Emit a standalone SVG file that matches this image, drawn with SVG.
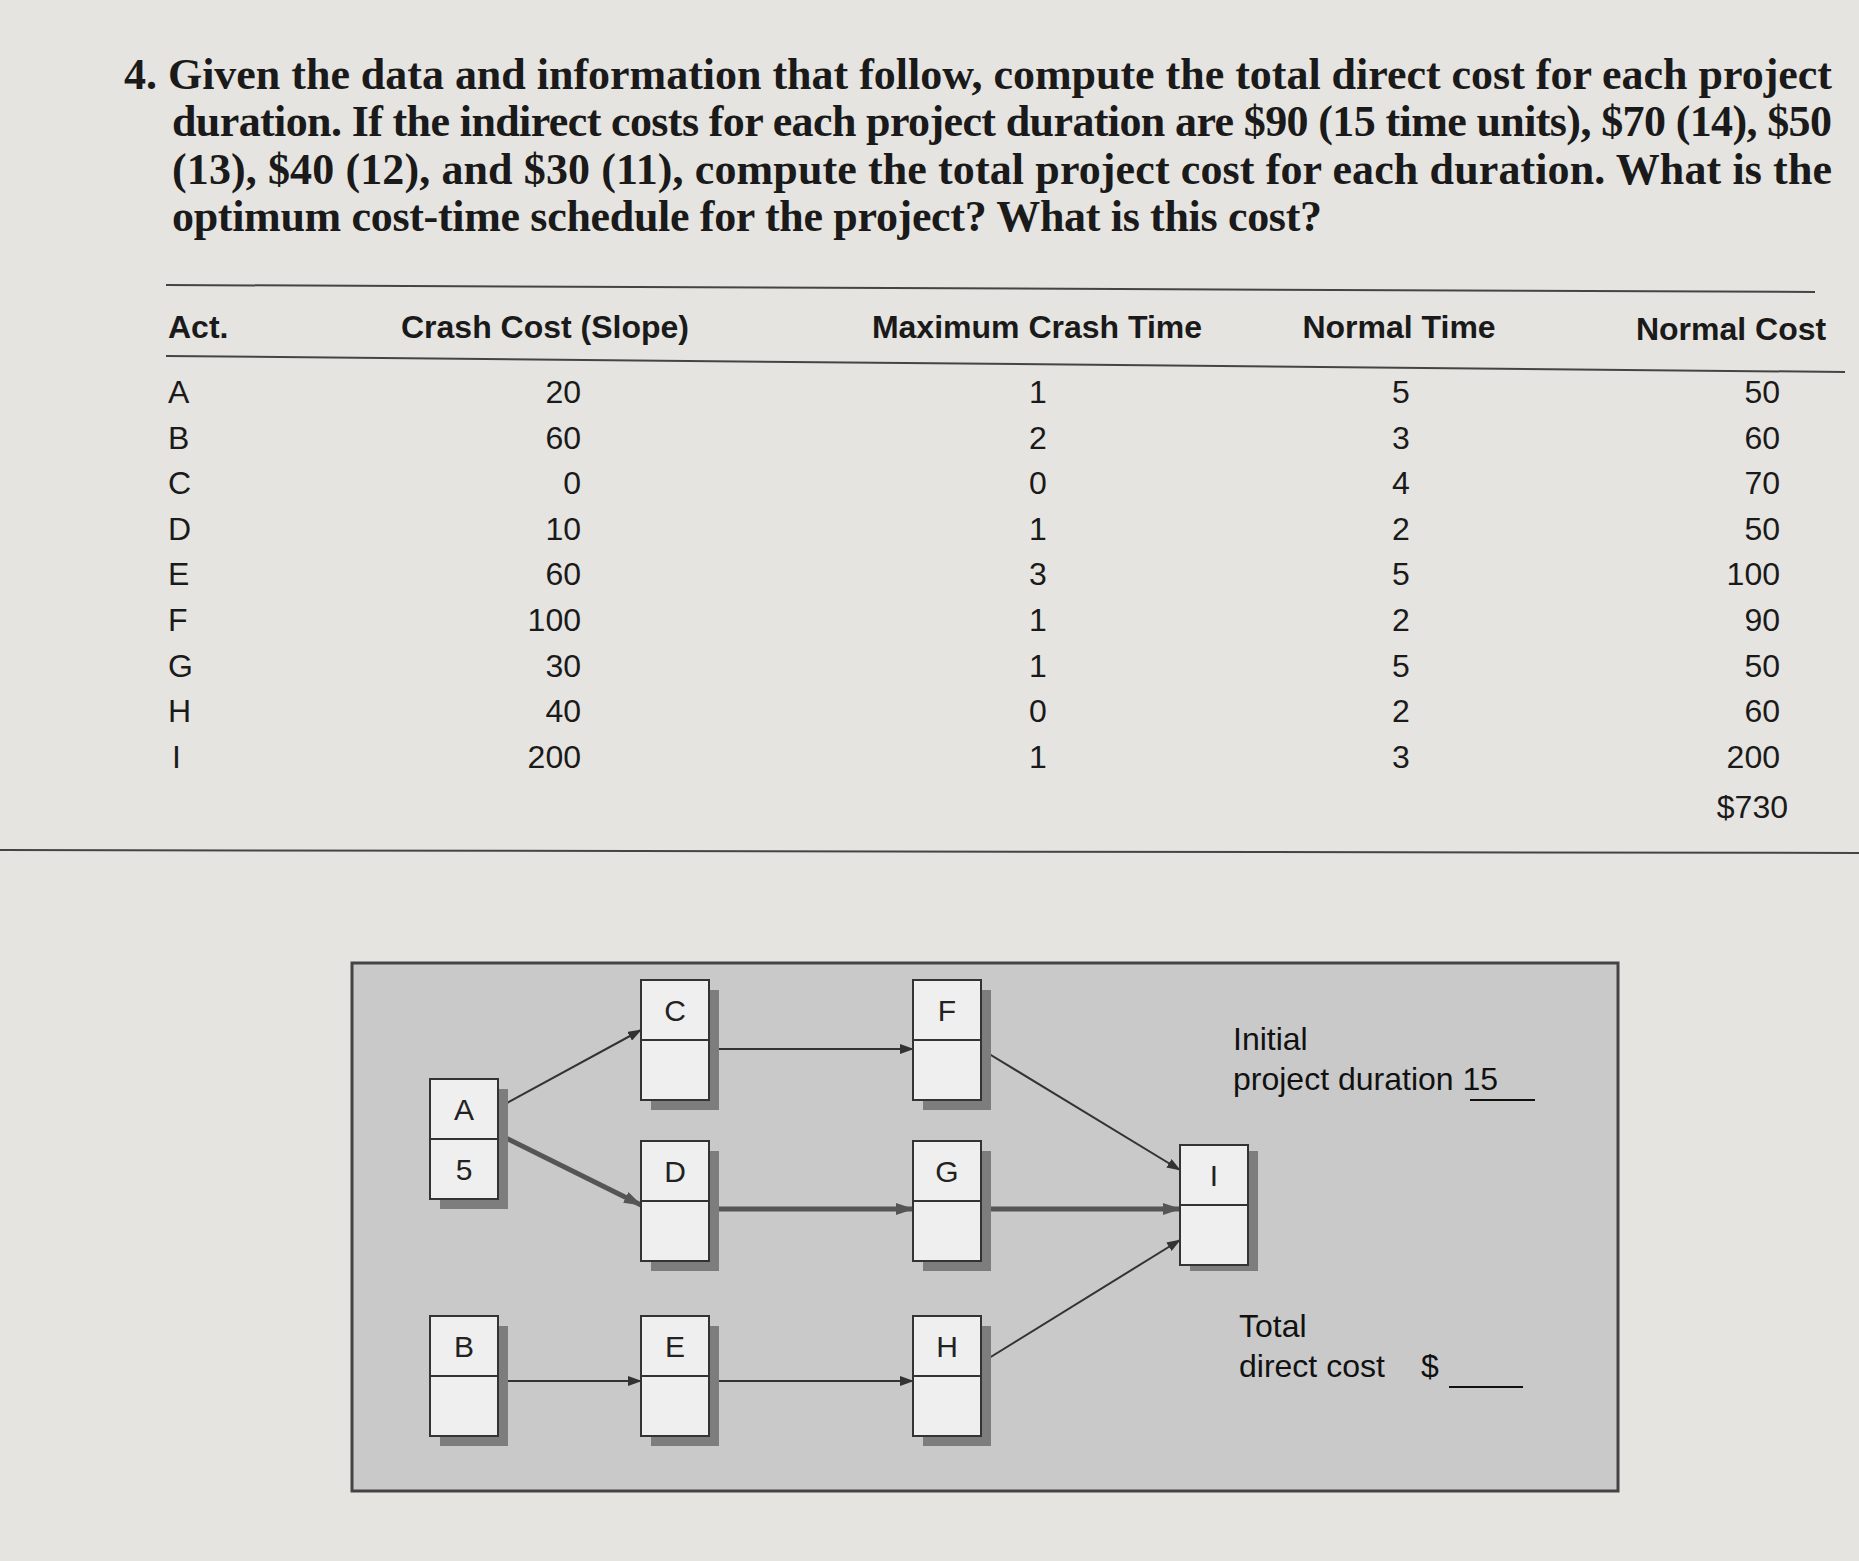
<svg xmlns="http://www.w3.org/2000/svg" width="1859" height="1561" viewBox="0 0 1859 1561">
<style>
.t{font-family:"Liberation Serif",serif;font-size:44px;font-weight:bold;fill:#1a1a1a}
.h{font-family:"Liberation Sans",sans-serif;font-weight:bold;font-size:32px;fill:#1a1a1a}
.c{font-family:"Liberation Sans",sans-serif;font-size:32px;fill:#1a1a1a}
.n{font-family:"Liberation Sans",sans-serif;font-size:30px;fill:#222;text-anchor:middle}
.d{font-family:"Liberation Sans",sans-serif;font-size:32px;fill:#111}
.box{fill:#efefef;stroke:#333;stroke-width:2}
.sh{fill:#7d7d7d}
.ln{stroke:#333;stroke-width:2;fill:none;marker-end:url(#ar)}
.lt{stroke:#555;stroke-width:5;fill:none;marker-end:url(#ar2)}
</style>
<defs>
<marker id="ar" markerWidth="14" markerHeight="10" refX="13" refY="5" orient="auto" markerUnits="userSpaceOnUse"><path d="M0,0L14,5L0,10z" fill="#333"/></marker>
<marker id="ar2" markerWidth="18" markerHeight="12" refX="17" refY="6" orient="auto" markerUnits="userSpaceOnUse"><path d="M0,0L18,6L0,12z" fill="#555"/></marker>
</defs>
<rect width="1859" height="1561" fill="#e6e4e0"/>
<text class="t" x="124" y="89" textLength="1708" lengthAdjust="spacing">4. Given the data and information that follow, compute the total direct cost for each project</text>
<text class="t" x="172" y="136" textLength="1660" lengthAdjust="spacing">duration. If the indirect costs for each project duration are $90 (15 time units), $70 (14), $50</text>
<text class="t" x="172" y="184" textLength="1660" lengthAdjust="spacing">(13), $40 (12), and $30 (11), compute the total project cost for each duration. What is the</text>
<text class="t" x="172" y="231" textLength="1150" lengthAdjust="spacing">optimum cost-time schedule for the project? What is this cost?</text>
<line x1="166" y1="285" x2="1815" y2="292" stroke="#444" stroke-width="2"/>
<text class="h" x="168" y="338">Act.</text>
<text class="h" x="545" y="338" text-anchor="middle">Crash Cost (Slope)</text>
<text class="h" x="1037" y="338" text-anchor="middle">Maximum Crash Time</text>
<text class="h" x="1399" y="338" text-anchor="middle">Normal Time</text>
<text class="h" x="1731" y="340" text-anchor="middle">Normal Cost</text>
<line x1="166" y1="356" x2="1845" y2="372" stroke="#444" stroke-width="2"/>
<g class="c">
<text x="168" y="403">A</text><text x="168" y="449">B</text><text x="168" y="494">C</text><text x="168" y="540">D</text><text x="168" y="585">E</text><text x="168" y="631">F</text><text x="168" y="677">G</text><text x="168" y="722">H</text><text x="172" y="768">I</text>
</g>
<g class="c" text-anchor="end">
<text x="581" y="403">20</text><text x="581" y="449">60</text><text x="581" y="494">0</text><text x="581" y="540">10</text><text x="581" y="585">60</text><text x="581" y="631">100</text><text x="581" y="677">30</text><text x="581" y="722">40</text><text x="581" y="768">200</text>
</g>
<g class="c" text-anchor="middle">
<text x="1038" y="403">1</text><text x="1038" y="449">2</text><text x="1038" y="494">0</text><text x="1038" y="540">1</text><text x="1038" y="585">3</text><text x="1038" y="631">1</text><text x="1038" y="677">1</text><text x="1038" y="722">0</text><text x="1038" y="768">1</text>
<text x="1401" y="403">5</text><text x="1401" y="449">3</text><text x="1401" y="494">4</text><text x="1401" y="540">2</text><text x="1401" y="585">5</text><text x="1401" y="631">2</text><text x="1401" y="677">5</text><text x="1401" y="722">2</text><text x="1401" y="768">3</text>
</g>
<g class="c" text-anchor="end">
<text x="1780" y="403">50</text><text x="1780" y="449">60</text><text x="1780" y="494">70</text><text x="1780" y="540">50</text><text x="1780" y="585">100</text><text x="1780" y="631">90</text><text x="1780" y="677">50</text><text x="1780" y="722">60</text><text x="1780" y="768">200</text><text x="1788" y="818">$730</text>
</g>
<line x1="0" y1="850" x2="1859" y2="853" stroke="#444" stroke-width="2"/>
<rect x="352" y="963" width="1266" height="528" fill="#c9c9c9" stroke="#444" stroke-width="3"/>
<g id="connectors">
<line class="ln" x1="496" y1="1109" x2="641" y2="1030"/>
<line class="lt" x1="496" y1="1133" x2="641" y2="1205"/>
<line class="ln" x1="709" y1="1049" x2="913" y2="1049"/>
<line class="lt" x1="709" y1="1209" x2="913" y2="1209"/>
<line class="lt" x1="981" y1="1209" x2="1180" y2="1209"/>
<line class="ln" x1="981" y1="1049" x2="1180" y2="1170"/>
<line class="ln" x1="981" y1="1363" x2="1180" y2="1240"/>
<line class="ln" x1="496" y1="1381" x2="641" y2="1381"/>
<line class="ln" x1="709" y1="1381" x2="913" y2="1381"/>
</g>
<g id="A"><rect class="sh" x="440" y="1089" width="68" height="120"/><rect class="box" x="430" y="1079" width="68" height="60"/><rect class="box" x="430" y="1139" width="68" height="60"/><text class="n" x="464" y="1120">A</text><text class="n" x="464" y="1180">5</text></g>
<g id="C"><rect class="sh" x="651" y="990" width="68" height="120"/><rect class="box" x="641" y="980" width="68" height="60"/><rect class="box" x="641" y="1040" width="68" height="60"/><text class="n" x="675" y="1021">C</text></g>
<g id="F"><rect class="sh" x="923" y="990" width="68" height="120"/><rect class="box" x="913" y="980" width="68" height="60"/><rect class="box" x="913" y="1040" width="68" height="60"/><text class="n" x="947" y="1021">F</text></g>
<g id="D"><rect class="sh" x="651" y="1151" width="68" height="120"/><rect class="box" x="641" y="1141" width="68" height="60"/><rect class="box" x="641" y="1201" width="68" height="60"/><text class="n" x="675" y="1182">D</text></g>
<g id="G"><rect class="sh" x="923" y="1151" width="68" height="120"/><rect class="box" x="913" y="1141" width="68" height="60"/><rect class="box" x="913" y="1201" width="68" height="60"/><text class="n" x="947" y="1182">G</text></g>
<g id="I"><rect class="sh" x="1190" y="1151" width="68" height="120"/><rect class="box" x="1180" y="1145" width="68" height="60"/><rect class="box" x="1180" y="1205" width="68" height="60"/><text class="n" x="1214" y="1186">I</text></g>
<g id="B"><rect class="sh" x="440" y="1326" width="68" height="120"/><rect class="box" x="430" y="1316" width="68" height="60"/><rect class="box" x="430" y="1376" width="68" height="60"/><text class="n" x="464" y="1357">B</text></g>
<g id="E"><rect class="sh" x="651" y="1326" width="68" height="120"/><rect class="box" x="641" y="1316" width="68" height="60"/><rect class="box" x="641" y="1376" width="68" height="60"/><text class="n" x="675" y="1357">E</text></g>
<g id="H"><rect class="sh" x="923" y="1326" width="68" height="120"/><rect class="box" x="913" y="1316" width="68" height="60"/><rect class="box" x="913" y="1376" width="68" height="60"/><text class="n" x="947" y="1357">H</text></g>
<text class="d" x="1233" y="1050">Initial</text>
<text class="d" x="1233" y="1090">project duration 15</text>
<line x1="1470" y1="1100" x2="1535" y2="1100" stroke="#111" stroke-width="2"/>
<text class="d" x="1239" y="1337">Total</text>
<text class="d" x="1239" y="1377">direct cost</text>
<text class="d" x="1421" y="1377">$</text>
<line x1="1449" y1="1387" x2="1523" y2="1387" stroke="#111" stroke-width="2"/>
</svg>
